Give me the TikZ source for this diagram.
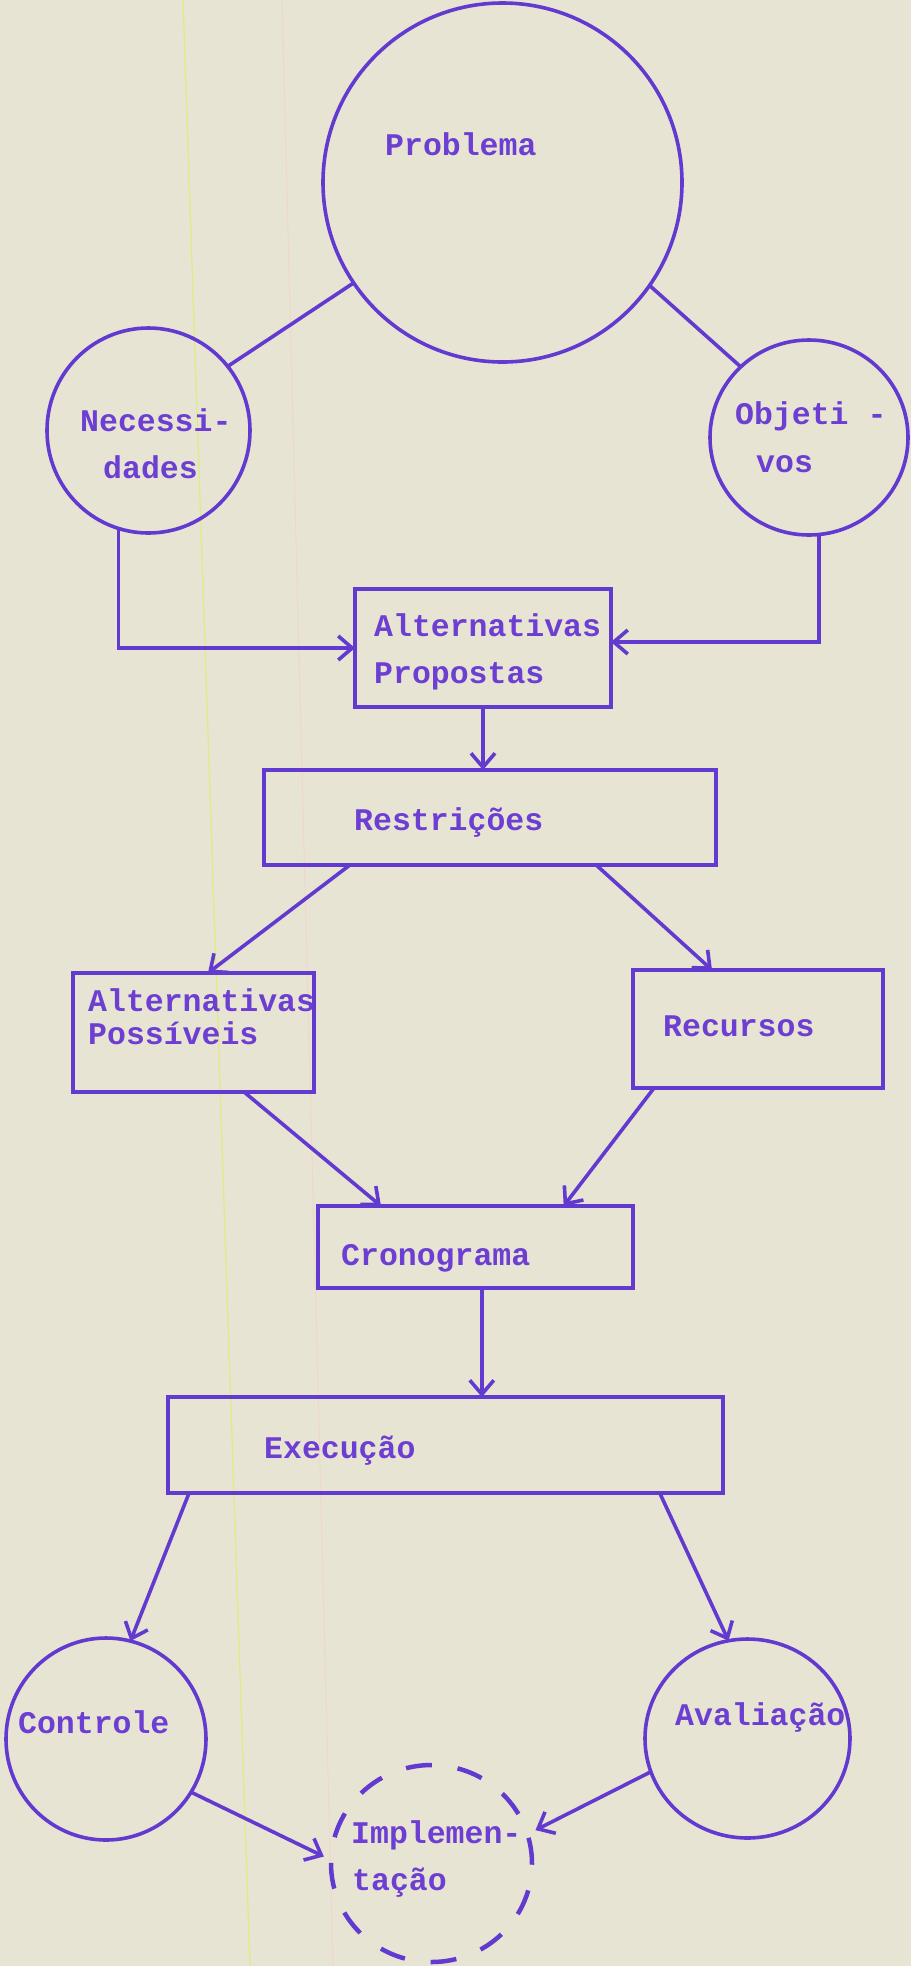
\documentclass[tikz,border=0pt]{standalone}
\usepackage{fontspec}
\newfontfamily\twfont{Liberation Mono}
\usetikzlibrary{arrows.meta,calc,shapes.geometric}
\definecolor{ink}{RGB}{98,58,208}
\definecolor{inktext}{RGB}{108,62,210}
\definecolor{paper}{RGB}{232,228,212}
\definecolor{edgeyellow}{RGB}{222,236,130}
\definecolor{edgepink}{RGB}{240,214,204}
\tikzset{
  inkline/.style={draw=ink, line width=3.6pt},
  boxnode/.style={inkline, rectangle, inner sep=0pt, outer sep=0pt},
  ringnode/.style={inkline, ellipse, inner sep=0pt, outer sep=0pt},
  lbl/.style={inner sep=0pt, anchor=base west, text=inktext,
    font=\twfont\bfseries\fontsize{31.5}{36}\selectfont},
  conn/.style={inkline, -{Straight Barb[length=14pt,width=24pt]}},
}
\begin{document}
\begin{tikzpicture}[x=1pt,y=-1pt]
\useasboundingbox (0,0) rectangle (911,1966);
\fill[paper] (0,0) rectangle (911,1966);
\draw[edgepink, line width=1pt] (282,0) -- (333,1966);
\draw[edgeyellow, line width=1.2pt] (183,0) -- (250,1966);

% shapes
\node[ringnode, minimum width=359pt, minimum height=359pt] (prob) at (502.5,182.5) {};
\node[ringnode, minimum width=203pt, minimum height=205pt] (nec) at (148.5,430.5) {};
\node[ringnode, minimum width=198pt, minimum height=195pt] (obj) at (809,437.5) {};
\node[boxnode, minimum width=256pt, minimum height=118pt] (altprop) at (483,648) {};
\node[boxnode, minimum width=452pt, minimum height=95pt] (restr) at (490,817.5) {};
\node[boxnode, minimum width=241pt, minimum height=119pt] (altposs) at (193.5,1032.5) {};
\node[boxnode, minimum width=250pt, minimum height=118pt] (recur) at (758,1029) {};
\node[boxnode, minimum width=315pt, minimum height=82pt] (crono) at (475.5,1247) {};
\node[boxnode, minimum width=555pt, minimum height=96pt] (exec) at (445.5,1445) {};
\node[ringnode, minimum width=200pt, minimum height=202pt] (ctrl) at (106,1739) {};
\node[ringnode, minimum width=205pt, minimum height=199pt] (aval) at (747.5,1738.5) {};
\node[ringnode, line width=4.5pt, dash pattern=on 26pt off 26pt, minimum width=201pt, minimum height=197pt] (impl) at (431.5,1863.5) {};

% texts
\node[lbl] (t-prob) at (385,155) {Problema};
\node[lbl] (t-nec1) at (80,431) {Necessi-};
\node[lbl] (t-nec2) at (103,478) {dades};
\node[lbl] (t-obj1) at (735,424) {Objeti -};
\node[lbl] (t-obj2) at (756,472) {vos};
\node[lbl] (t-ap1) at (374,636) {Alternativas};
\node[lbl] (t-ap2) at (374,683) {Propostas};
\node[lbl] (t-res) at (354,830) {Restrições};
\node[lbl] (t-as1) at (88,1011) {Alternativas};
\node[lbl] (t-as2) at (88,1044) {Possíveis};
\node[lbl] (t-rec) at (663,1036) {Recursos};
\node[lbl] (t-cro) at (341,1265) {Cronograma};
\node[lbl] (t-exe) at (264,1458) {Execução};
\node[lbl] (t-ctl) at (18,1733) {Controle};
\node[lbl] (t-ava) at (675,1725) {Avaliação};
\node[lbl] (t-imp1) at (351,1843) {Implemen-};
\node[lbl] (t-imp2) at (352,1890) {tação};

% connectors
\draw[inkline] (prob.214.6) -- (nec.39);
\draw[inkline] (prob.325) -- (obj.134);
\draw[conn] (nec.253) |- (altprop.west);
\draw[conn] (obj.276) |- ([yshift=6pt]altprop.east);
\draw[conn] (altprop.south) -- (altprop.south |- restr.north);
\draw[conn] ($(restr.south west)!0.19!(restr.south east)$) -- ($(altposs.north west)!0.56!(altposs.north east)$);
\draw[conn] ($(restr.south west)!0.735!(restr.south east)$) -- ($(recur.north west)!0.316!(recur.north east)$);
\draw[conn] ($(altposs.south west)!0.71!(altposs.south east)$) -- ($(crono.north west)!0.2!(crono.north east)$);
\draw[conn] ($(recur.south west)!0.084!(recur.south east)$) -- ($(crono.north west)!0.78!(crono.north east)$);
\coordinate (cs) at ($(crono.south west)!0.52!(crono.south east)$);
\draw[conn] (cs) -- (cs |- exec.north);
\draw[conn] ($(exec.south west)!0.038!(exec.south east)$) -- (ctrl.76);
\draw[conn] ($(exec.south west)!0.886!(exec.south east)$) -- (aval.101);
\draw[conn, shorten >=8pt] (ctrl.328) -- (impl.178);
\draw[conn, shorten >=9pt] (aval.199) -- (impl.17);
\end{tikzpicture}
\end{document}
